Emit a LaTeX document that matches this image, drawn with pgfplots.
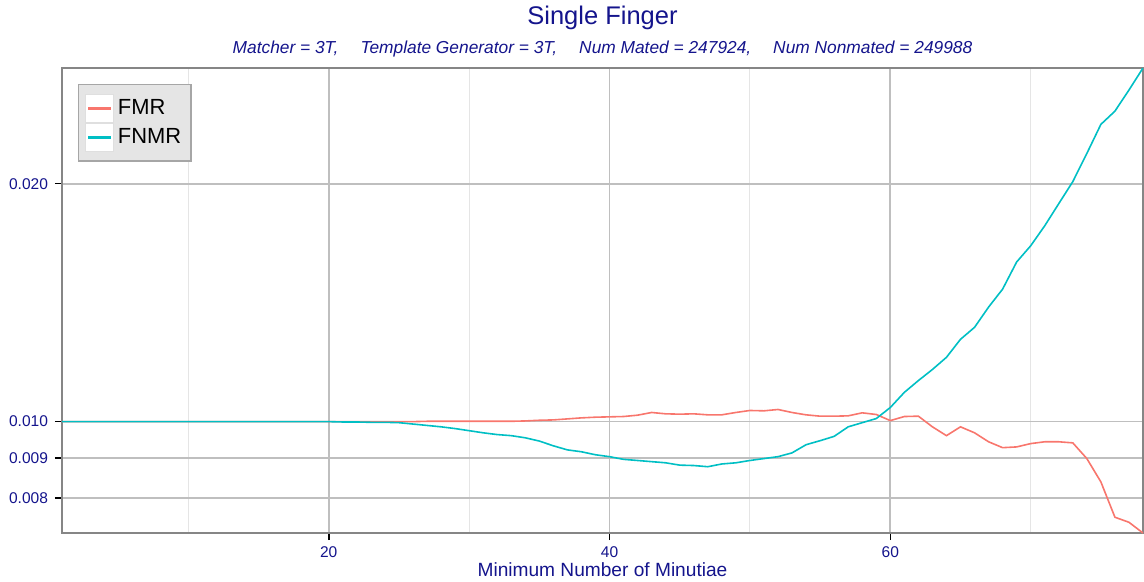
\documentclass[border=0pt]{standalone}
\usepackage{fontspec}
\setmainfont{Liberation Sans}
\usepackage{pgfplots}
\pgfplotsset{compat=1.18}
\usepackage{pgfplotstable}
\definecolor{navy}{RGB}{20,20,140}
\definecolor{fmrc}{HTML}{F8766D}
\definecolor{fnmrc}{HTML}{00BFC4}
\pgfplotstableread{
x fmr fnmr
1 0.01 0.01
2 0.01 0.01
3 0.01 0.01
4 0.01 0.01
5 0.01 0.01
6 0.01 0.01
7 0.01 0.01
8 0.01 0.01
9 0.01 0.01
10 0.01 0.01
11 0.01 0.01
12 0.01 0.01
13 0.01 0.01
14 0.01 0.01
15 0.01 0.01
16 0.01 0.01
17 0.01 0.01
18 0.01 0.01
19 0.01 0.01
20 0.01 0.01
21 0.01 0.00999
22 0.01 0.00999
23 0.01 0.00998
24 0.01 0.00998
25 0.01 0.00997
26 0.01 0.00993
27 0.01001 0.00989
28 0.01001 0.00985
29 0.01001 0.0098
30 0.01001 0.00974
31 0.01001 0.00968
32 0.01001 0.00963
33 0.01001 0.0096
34 0.01002 0.00954
35 0.01004 0.00945
36 0.01005 0.00932
37 0.01008 0.00921
38 0.01011 0.00916
39 0.01013 0.00908
40 0.01014 0.00903
41 0.01015 0.00896
42 0.01019 0.00893
43 0.01027 0.0089
44 0.01023 0.00887
45 0.01022 0.00881
46 0.01023 0.0088
47 0.01020 0.00877
48 0.01020 0.00884
49 0.01027 0.00887
50 0.01033 0.00893
51 0.01032 0.00898
52 0.01036 0.00903
53 0.01027 0.00913
54 0.01020 0.00935
55 0.01016 0.00946
56 0.01016 0.00958
57 0.01017 0.00985
58 0.01026 0.00997
59 0.01021 0.01009
60 0.01003 0.01042
61 0.01015 0.01089
62 0.01016 0.01127
63 0.00985 0.01164
64 0.00960 0.01206
65 0.00985 0.01271
66 0.00968 0.01316
67 0.00943 0.01396
68 0.00927 0.01471
69 0.00929 0.01592
70 0.00938 0.01669
71 0.00943 0.01769
72 0.00943 0.01887
73 0.00940 0.02012
74 0.00898 0.02184
75 0.00839 0.02377
76 0.00757 0.0247
77 0.00746 0.02627
78 0.00723 0.02801
}\datatable
\begin{document}
\begin{tikzpicture}
\begin{axis}[
  scale only axis,
  clip mode=individual,
  width=540.5bp, height=232.5bp,
  xmin=1, xmax=78,
  ymode=log,
  ymin=0.00723, ymax=0.02801,
  xtick={20,40,60},
  minor xtick={10,30,50,70},
  ytick={0.008,0.009,0.01,0.02},
  yticklabels={0.008,0.009,0.010,0.020},
  /pgf/number format/assume math mode=true,
  tick pos=left,
  tick align=outside,
  major tick length=3.5bp,
  minor tick length=0pt,
  tick style={black, line width=0.8bp},
  xmajorgrids, xminorgrids, ymajorgrids,
  major grid style={color=gray!50, line width=0.85bp},
  minor grid style={color=gray!20, line width=0.55bp},
  axis line style={draw=gray!95, line width=0.9bp},
  ticklabel style={font=\fontsize{7.8}{9}\selectfont, text=navy},
  xlabel={Minimum Number of Minutiae},
  xlabel style={font=\fontsize{9.6}{11}\selectfont, text=navy, at={(axis description cs:0.5,0)}, anchor=center, yshift=-18.5bp},
  title={Single Finger},
  title style={font=\fontsize{12.8}{14}\selectfont, text=navy, at={(axis description cs:0.5,1)}, anchor=center, yshift=19bp},
  legend cell align=left,
  legend style={at={(0,1)}, anchor=north west, xshift=8bp, yshift=-8bp,
    fill=gray!20, draw=gray!70, line width=0.7bp,
    font=\fontsize{11}{13}\selectfont, inner xsep=3bp, inner ysep=4.5bp, row sep=0bp},
]
\addplot[fmrc, line width=0.8bp,
  legend image code/.code={
    \filldraw[fill=white, draw=gray!25, line width=0.6bp] (0bp,-7bp) rectangle (14bp,7bp);
    \fill[fill=fmrc] (1.5bp,-0.5bp) rectangle (12.5bp,0.5bp);
  }] table[x=x, y=fmr] {\datatable};
\addlegendentry{FMR}
\addplot[fnmrc, line width=0.8bp,
  legend image code/.code={
    \filldraw[fill=white, draw=gray!25, line width=0.6bp] (0bp,-7bp) rectangle (14bp,7bp);
    \fill[fill=fnmrc] (1.5bp,-0.5bp) rectangle (12.5bp,0.5bp);
  }] table[x=x, y=fnmr] {\datatable};
\addlegendentry{FNMR}
\node[font=\fontsize{8.7}{10}\selectfont\itshape, text=navy] at (rel axis cs:0.5,1) [yshift=9.5bp]
  {Matcher = 3T,\hspace{11bp}Template Generator = 3T,\hspace{11bp}Num Mated = 247924,\hspace{11bp}Num Nonmated = 249988};
\end{axis}
\pgfresetboundingbox
\path (-31bp,-24.5bp) rectangle (541bp,266.5bp);
\end{tikzpicture}
\end{document}
